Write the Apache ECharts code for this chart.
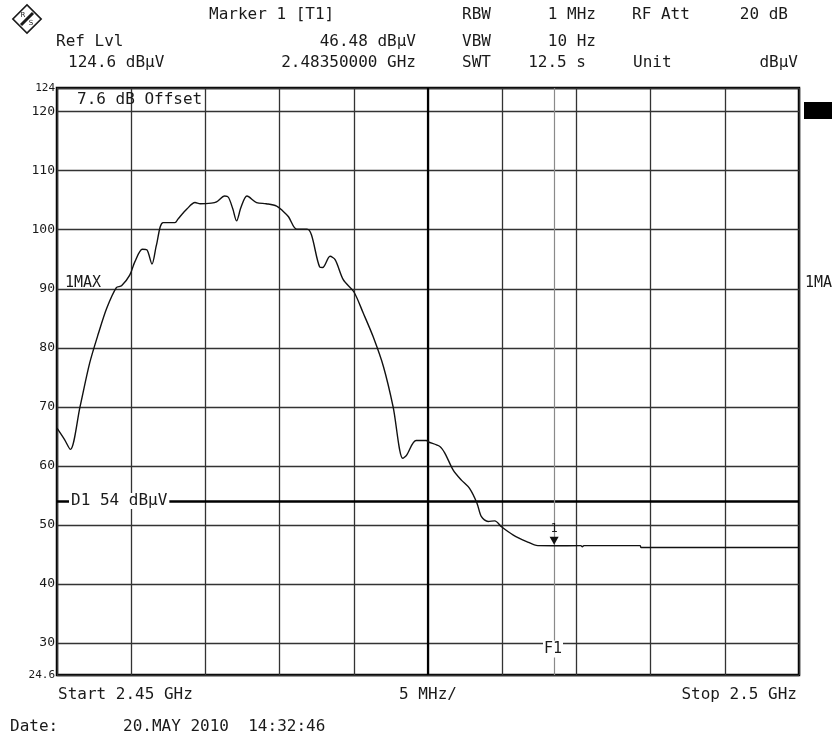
<!DOCTYPE html>
<html>
<head>
<meta charset="utf-8">
<script src="https://cdn.jsdelivr.net/npm/echarts@6/dist/echarts.min.js"></script>
<style>
html, body { margin: 0; padding: 0; background: #fff; }
#diagram { width: 834px; height: 738px; }
</style>
</head>
<body>
<div id="diagram"></div>
<script>
// trace 1 (max hold), frequency in MHz, level in dBµV
var freqMHz = [
  2450.0, 2450.5, 2450.9, 2451.55, 2452.2, 2452.8, 2453.35, 2454.0, 2454.35, 2454.9,
  2455.25, 2455.75, 2456.05, 2456.4, 2456.7, 2457.15, 2457.95, 2458.15, 2458.75, 2459.3,
  2459.65, 2460.4, 2460.75, 2461.3, 2461.55, 2461.85, 2462.1, 2462.4, 2462.8, 2463.45,
  2464.1, 2464.8, 2465.25, 2465.6, 2466.15, 2466.85, 2467.15, 2467.7, 2467.9, 2468.4,
  2468.75, 2469.3, 2470.0, 2470.65, 2471.3, 2472.0, 2472.65, 2473.3, 2473.55, 2474.2,
  2474.9, 2475.0, 2475.8, 2476.15, 2476.7, 2477.25, 2477.8, 2478.3, 2478.6, 2479.05,
  2479.5, 2479.95, 2480.75, 2481.65, 2482.4, 2483.5, 2485.3, 2485.4, 2485.5, 2489.3,
  2489.35, 2500.0
];
var levelDb = [
  66.4, 64.5, 62.8, 70.0, 77.4, 82.5, 86.7, 90.2, 90.5, 92.3,
  94.6, 96.7, 96.6, 94.2, 97.4, 101.2, 101.2, 101.8, 103.5, 104.6,
  104.4, 104.5, 104.7, 105.7, 105.5, 103.5, 101.5, 103.8, 105.7, 104.6,
  104.4, 104.0, 103.1, 102.2, 100.1, 100.1, 99.1, 93.7, 93.6, 95.5,
  94.9, 91.5, 89.5, 85.8, 81.9, 76.8, 70.0, 61.3, 61.8, 64.3,
  64.3, 64.1, 63.3, 62.1, 59.3, 57.6, 56.2, 53.7, 51.4, 50.6,
  50.7, 49.7, 48.3, 47.2, 46.5, 46.48, 46.5, 46.3, 46.5, 46.5,
  46.2, 46.2
];
var startMHz = 2450;
var stopMHz = 2500;
var spanPerDiv = 5;
var refLevel = 124;
var bottomLevel = 24.6;
var d1Level = 54;
var markerFreq = 2483.5;
var markerLevel = 46.48;

var font = "DejaVu Sans Mono";
var ink = "#1a1a1a";

function txt(x, y, s, align, size, extra) {
  var el = {
    type: "text",
    x: x,
    y: y,
    style: {
      text: s,
      fill: ink,
      font: (size || 16) + "px '" + font + "'",
      textAlign: align || "left",
      textVerticalAlign: "middle"
    },
    z: 10
  };
  if (extra) {
    for (var k in extra) el.style[k] = extra[k];
  }
  return el;
}

var traceData = freqMHz.map(function (f, i) { return [f, levelDb[i]]; });

var myChart = echarts.init(document.getElementById("diagram"));
var option = {
  animation: false,
  backgroundColor: "#fff",
  grid: {
    left: 57,
    right: 35,
    top: 88,
    bottom: 63,
    show: true,
    borderColor: "#000",
    borderWidth: 2.5
  },
  xAxis: {
    type: "value",
    min: startMHz,
    max: stopMHz,
    interval: spanPerDiv,
    axisLine: { show: false },
    axisTick: { show: false },
    axisLabel: { show: false },
    splitLine: { lineStyle: { color: "#333", width: 1.3 } }
  },
  yAxis: {
    type: "value",
    min: bottomLevel,
    max: refLevel,
    splitNumber: 10,
    axisLine: { show: false },
    axisTick: { show: false },
    axisLabel: {
      margin: 2,
      color: ink,
      fontFamily: font,
      fontSize: 13,
      formatter: function (v) {
        if (v < 25 || v > 121) return "{s|" + v + "}";
        return String(v);
      },
      rich: { s: { fontSize: 11, fontFamily: font, color: ink } }
    },
    splitLine: { lineStyle: { color: "#333", width: 1.3 } }
  },
  series: [
    {
      name: "1MAX",
      type: "line",
      data: traceData,
      showSymbol: false,
      symbol: "none",
      smooth: 0.3,
      lineStyle: { color: "#111", width: 1.4 },
      z: 5,
      markLine: {
        silent: true,
        symbol: "none",
        label: { show: false },
        data: [
          { yAxis: d1Level, lineStyle: { color: "#000", width: 2.5, type: "solid" } },
          { xAxis: (startMHz + stopMHz) / 2, lineStyle: { color: "#000", width: 2.2, type: "solid" } },
          { xAxis: markerFreq, lineStyle: { color: "#8a8a8a", width: 1.2, type: "solid" } }
        ]
      },
      markPoint: {
        silent: true,
        data: [
          {
            coord: [markerFreq, markerLevel],
            symbol: "path://M0,0 L10,0 L5,9 Z",
            symbolSize: [9, 8],
            symbolOffset: [0, -5],
            itemStyle: { color: "#111" },
            label: {
              show: true,
              position: "top",
              distance: 2,
              formatter: "1",
              color: ink,
              fontFamily: font,
              fontSize: 12
            }
          }
        ]
      }
    }
  ],
  graphic: [
    // R&S logo
    {
      type: "group",
      x: 27,
      y: 19,
      children: [
        {
          type: "rect",
          shape: { x: -10, y: -10, width: 20, height: 20 },
          rotation: Math.PI / 4,
          style: { fill: "none", stroke: ink, lineWidth: 1.6 }
        },
        {
          type: "line",
          shape: { x1: -6, y1: 6, x2: 6, y2: -6 },
          style: { stroke: ink, lineWidth: 3 }
        },
        {
          type: "text",
          x: -4, y: -4,
          style: { text: "R", fill: ink, font: "7px 'DejaVu Sans'", textAlign: "center", textVerticalAlign: "middle" }
        },
        {
          type: "text",
          x: 4, y: 4,
          style: { text: "S", fill: ink, font: "7px 'DejaVu Sans'", textAlign: "center", textVerticalAlign: "middle" }
        }
      ]
    },
    // header
    txt(209, 15, "Marker 1 [T1]"),
    txt(56, 42, "Ref Lvl"),
    txt(68, 63, "124.6 dB\u00b5V"),
    txt(416, 42, "46.48 dB\u00b5V", "right"),
    txt(416, 63, "2.48350000 GHz", "right"),
    txt(462, 15, "RBW"),
    txt(462, 42, "VBW"),
    txt(462, 63, "SWT"),
    txt(596, 15, "1 MHz", "right"),
    txt(596, 42, "10 Hz", "right"),
    txt(586, 63, "12.5 s", "right"),
    txt(632, 15, "RF Att"),
    txt(633, 63, "Unit"),
    txt(788, 15, "20 dB", "right"),
    txt(798, 63, "dB\u00b5V", "right"),
    // inside plot
    txt(77, 100, "7.6 dB Offset"),
    txt(65, 283, "1MAX", "left", 15),
    txt(69, 501, "D1 54 dB\u00b5V", "left", 16, { backgroundColor: "#fff", padding: [0, 2, 0, 2] }),
    txt(553, 649, "F1", "center", 15, { backgroundColor: "#fff", padding: [1, 1, 1, 1] }),
    // right margin
    txt(805, 283, "1MA", "left", 15),
    {
      type: "rect",
      shape: { x: 804, y: 102, width: 28, height: 17 },
      style: { fill: "#000" }
    },
    // footer
    txt(58, 695, "Start 2.45 GHz"),
    txt(428, 695, "5 MHz/", "center"),
    txt(797, 695, "Stop 2.5 GHz", "right"),
    txt(10, 727, "Date:"),
    txt(123, 727, "20.MAY 2010  14:32:46")
  ]
};
myChart.setOption(option);
</script>
</body>
</html>
